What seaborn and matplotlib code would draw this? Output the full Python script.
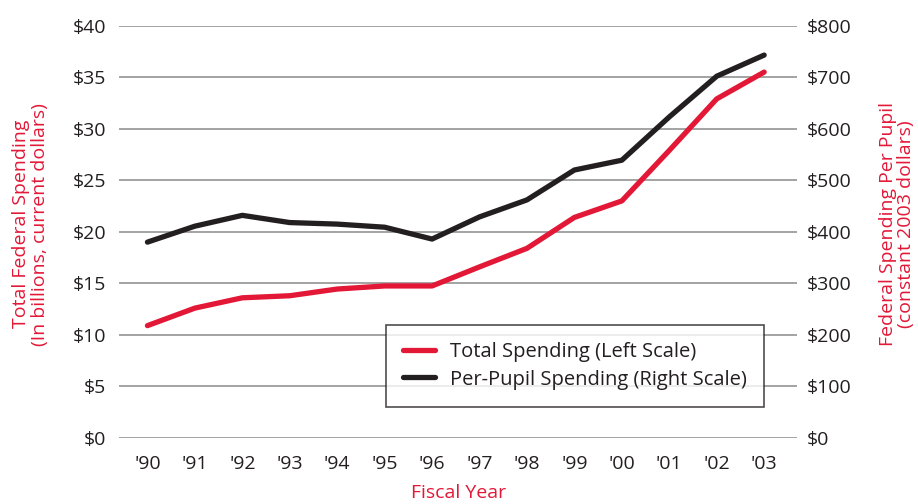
import seaborn as sns
import matplotlib.pyplot as plt
import pandas as pd

years = ["'90", "'91", "'92", "'93", "'94", "'95", "'96",
         "'97", "'98", "'99", "'00", "'01", "'02", "'03"]
total_spending = [10.9, 12.6, 13.6, 13.8, 14.45, 14.75, 14.75,
                  16.6, 18.4, 21.4, 23.0, 27.9, 32.9, 35.5]
per_pupil = [380, 411, 432, 418, 415, 409, 386,
             429, 462, 520, 539, 623, 702, 743]

RED = "#e31837"
BLACK = "#231f20"

sns.set_style("white")
plt.rcParams["font.family"] = ["Open Sans", "DejaVu Sans"]

df = pd.DataFrame({"x": range(len(years)), "total": total_spending, "pupil": per_pupil})

fig = plt.figure(figsize=(9.18, 5.04), dpi=100)
ax = fig.add_axes([0.1296, 0.131, 0.739, 0.818])
ax2 = ax.twinx()

sns.lineplot(data=df, x="x", y="total", ax=ax, color=RED, linewidth=3.8,
             label="Total Spending (Left Scale)", legend=False, zorder=3)
sns.lineplot(data=df, x="x", y="pupil", ax=ax2, color=BLACK, linewidth=3.8,
             label="Per-Pupil Spending (Right Scale)", legend=False, zorder=3)

ax.set_ylim(0, 40)
ax2.set_ylim(0, 800)
ax.set_xlim(-0.6, 13.7)
ax.set_yticks(range(0, 41, 5))
ax.set_yticklabels([f"${v}" for v in range(0, 41, 5)])
ax2.set_yticks(range(0, 801, 100))
ax2.set_yticklabels([f"${v}" for v in range(0, 801, 100)])
ax.set_xticks(range(len(years)))
ax.set_xticklabels(years)
ax.set_xlabel("")
ax.set_ylabel("")
ax2.set_ylabel("")

ax.grid(axis="y", color="#8a8a8a", linewidth=1.1)
ax.set_axisbelow(True)
for a in (ax, ax2):
    for s in a.spines.values():
        s.set_visible(False)
    a.tick_params(length=0, labelsize=14, colors="#231f20")
ax.tick_params(axis="y", pad=9)
ax.tick_params(axis="x", pad=12)
ax2.tick_params(axis="y", pad=7)

fig.text(0.499, 0.022, "Fiscal Year", color=RED, fontsize=14, ha="center", va="center")
fig.text(0.033, 0.555, "Total Federal Spending\n(In billions, current dollars)", color=RED,
         fontsize=14, ha="center", va="center", rotation=90, linespacing=1.05)
fig.text(0.977, 0.555, "Federal Spending Per Pupil\n(constant 2003 dollars)", color=RED,
         fontsize=14, ha="center", va="center", rotation=90, linespacing=1.05)

h1, l1 = ax.get_legend_handles_labels()
h2, l2 = ax2.get_legend_handles_labels()
leg = ax2.legend(h1 + h2, l1 + l2, loc="lower left", bbox_to_anchor=(0.393, 0.076),
                 frameon=True, fancybox=False, fontsize=14.5, handlelength=1.6,
                 handletextpad=0.75, borderpad=0.85, labelspacing=0.35,
                 edgecolor="#231f20", borderaxespad=0)
leg.get_frame().set_linewidth(1.2)
for t in leg.get_texts():
    t.set_color("#231f20")

fig.savefig("out.png", dpi=100)
